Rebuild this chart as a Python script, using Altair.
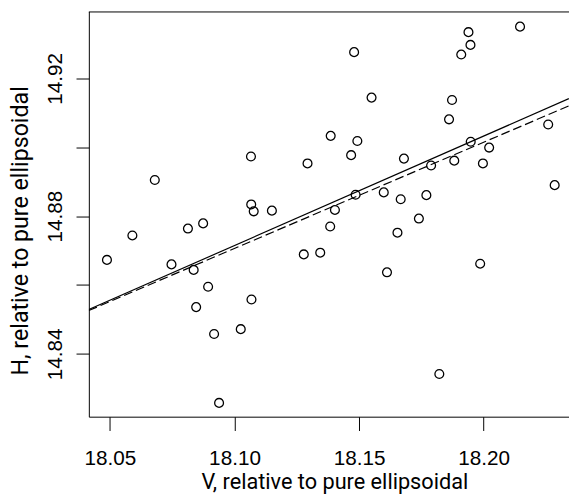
import altair as alt
import pandas as pd

# Scatter values
v_values = [18.0488, 18.0590, 18.0680, 18.0747, 18.0813, 18.0836, 18.0846, 18.0874, 18.0894, 18.0918,
            18.0938, 18.1025, 18.1066, 18.1067, 18.1077, 18.1068, 18.1150, 18.1278, 18.1293, 18.1344,
            18.1386, 18.1384, 18.1403, 18.1468, 18.1480, 18.1486, 18.1493, 18.1550, 18.1599, 18.1612,
            18.1654, 18.1667, 18.1680, 18.1740, 18.1770, 18.1789, 18.1822, 18.1861, 18.1873, 18.1882,
            18.1910, 18.1939, 18.1947, 18.1948, 18.1986, 18.1997, 18.2022, 18.2146, 18.2259, 18.2285]
h_values = [14.8673, 14.8744, 14.8905, 14.8660, 14.8764, 14.8644, 14.8536, 14.8779, 14.8595, 14.8458,
            14.8258, 14.8472, 14.8973, 14.8834, 14.8814, 14.8558, 14.8816, 14.8689, 14.8953, 14.8694,
            14.9033, 14.8770, 14.8818, 14.8977, 14.9276, 14.8862, 14.9018, 14.9144, 14.8869, 14.8637,
            14.8752, 14.8849, 14.8967, 14.8793, 14.8861, 14.8947, 14.8342, 14.9081, 14.9137, 14.8961,
            14.9269, 14.9334, 14.9297, 14.9016, 14.8662, 14.8953, 14.8999, 14.9350, 14.9066, 14.8890]

# Fitted lines (end points)
line_v = [18.0415, 18.2342]
solid_h = [14.8529, 14.9141]
dashed_h = [14.8526, 14.9120]

x_domain = [18.04153, 18.23425]
y_domain = [14.8218, 14.9394]
x_tick_values = [18.05, 18.10, 18.15, 18.20]
x_tick_labels = ["18.05", "18.10", "18.15", "18.20"]
y_tick_values = [14.84, 14.86, 14.88, 14.90, 14.92]
y_tick_labels = ["14.84", "", "14.88", "", "14.92"]

def label_expr(values, labels):
    parts = [f"abs(datum.value - {v}) < 0.001 ? '{l}'" for v, l in zip(values, labels)]
    return " : ".join(parts) + " : ''"

pts = pd.DataFrame({"V": v_values, "H": h_values})
lines = pd.DataFrame({
    "V": line_v + line_v,
    "H": solid_h + dashed_h,
    "kind": ["solid"] * 2 + ["dashed"] * 2,
})

W, H = 487, 411

x_enc = alt.X("V:Q", scale=alt.Scale(domain=x_domain, nice=False, zero=False),
              axis=alt.Axis(values=x_tick_values, labelExpr=label_expr(x_tick_values, x_tick_labels),
                            title="V, relative to pure ellipsoidal", grid=False,
                            tickSize=14, tickColor="black", tickWidth=1,
                            domainColor="black", domainWidth=1,
                            labelFont="Liberation Sans", labelFontSize=21, labelColor="black",
                            labelBaseline="alphabetic", labelPadding=35, labelAlign="center",
                            titleFont="Roboto", titleFontSize=22, titleFontWeight="normal",
                            titleColor="black", titleX=249, titleY=73, titleBaseline="alphabetic",
                            titleAlign="center"))
y_enc = alt.Y("H:Q", scale=alt.Scale(domain=y_domain, nice=False, zero=False),
              axis=alt.Axis(values=y_tick_values, labelExpr=label_expr(y_tick_values, y_tick_labels),
                            title="H, relative to pure ellipsoidal", grid=False,
                            tickSize=13, tickColor="black", tickWidth=1,
                            domainColor="black", domainWidth=1,
                            labelFont="Liberation Sans", labelFontSize=21, labelColor="black",
                            labelAngle=270, labelAlign="center", labelBaseline="alphabetic",
                            labelPadding=15,
                            titleFont="Roboto", titleFontSize=23.5, titleFontWeight="normal",
                            titleColor="black", titleX=-62, titleY=222, titleBaseline="alphabetic",
                            titleAlign="center", titleAngle=270))

points = alt.Chart(pts).mark_point(shape="circle", filled=False, color="black", size=80,
                                   strokeWidth=1.3, opacity=1).encode(x=x_enc, y=y_enc)

solid = alt.Chart(lines).transform_filter(alt.datum.kind == "solid").mark_line(
    color="black", strokeWidth=1.2, clip=True).encode(x=x_enc, y=y_enc)
dashed = alt.Chart(lines).transform_filter(alt.datum.kind == "dashed").mark_line(
    color="black", strokeWidth=1.2, strokeDash=[9, 4], clip=True).encode(x=x_enc, y=y_enc)

top = alt.Chart(pd.DataFrame({"a": [0]})).mark_rule(color="black", strokeWidth=1).encode(
    x=alt.value(0), x2=alt.value(W), y=alt.value(0.5))

chart = alt.layer(points, solid, dashed, top).properties(
    width=W, height=H,
    padding={"left": 82, "top": 0, "right": 0, "bottom": 83},
    autosize=alt.AutoSizeParams(type="none"),
    background="white",
).configure_view(stroke="transparent")

chart.save("out.html", embed_options={"renderer": "svg", "actions": False})
